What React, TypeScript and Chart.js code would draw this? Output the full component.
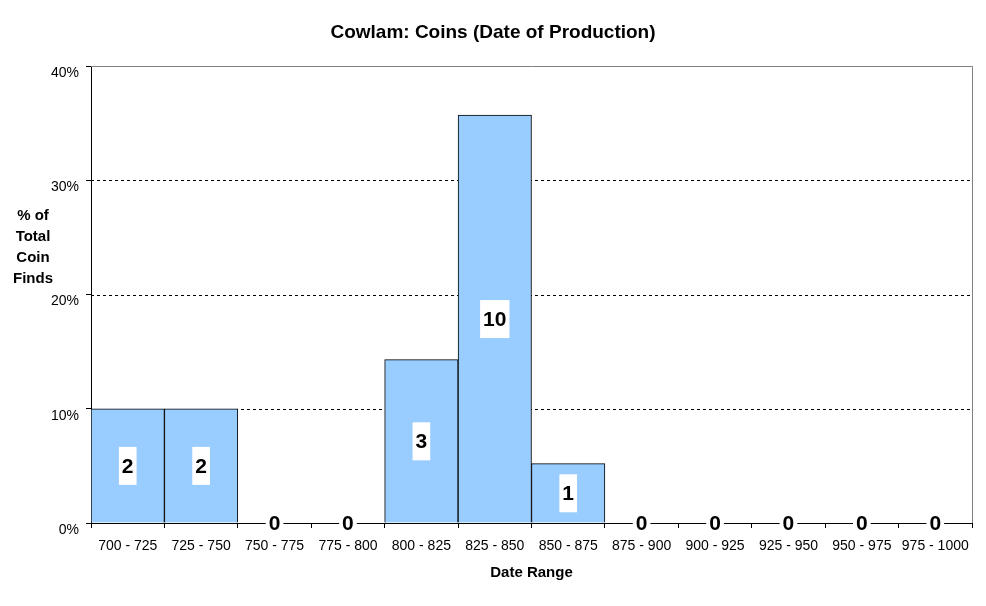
import React, { useEffect, useRef } from "react";
import { Chart, registerables } from "chart.js";

Chart.register(...registerables);

const categories = [
  "700 - 725", "725 - 750", "750 - 775", "775 - 800", "800 - 825", "825 - 850",
  "850 - 875", "875 - 900", "900 - 925", "925 - 950", "950 - 975", "975 - 1000",
];
const percentValues = [10, 10, 0, 0, 14.3, 35.7, 5.2, 0, 0, 0, 0, 0];
const coinCounts = [2, 2, 0, 0, 3, 10, 1, 0, 0, 0, 0, 0];
const yTickValues = [0, 10, 20, 30, 40];
const titleText = "Cowlam: Coins (Date of Production)";
const yTitleLines = ["% of", "Total", "Coin", "Finds"];
const xTitleText = "Date Range";

const FONT = "'Liberation Sans', Arial, sans-serif";

const decorPlugin = {
  id: "decor",
  beforeDatasetsDraw(chart: any) {
    const { ctx, chartArea, scales } = chart;
    const y = scales.y;
    ctx.save();
    ctx.strokeStyle = "#000";
    ctx.lineWidth = 1;
    ctx.setLineDash([3, 3]);
    [10, 20, 30].forEach((v) => {
      const py = Math.round(y.getPixelForValue(v)) + 0.5;
      ctx.beginPath();
      ctx.moveTo(chartArea.left, py);
      ctx.lineTo(chartArea.right, py);
      ctx.stroke();
    });
    ctx.setLineDash([]);
    ctx.strokeStyle = "#808080";
    ctx.beginPath();
    const top = Math.round(chartArea.top) + 0.5;
    const right = Math.round(chartArea.right) + 0.5;
    ctx.moveTo(chartArea.left, top);
    ctx.lineTo(right, top);
    ctx.lineTo(right, chartArea.bottom);
    ctx.stroke();
    ctx.restore();
  },
  afterDraw(chart: any) {
    const { ctx, chartArea, scales } = chart;
    const x = scales.x;
    const y = scales.y;
    ctx.save();
    // title
    ctx.fillStyle = "#000";
    ctx.textAlign = "center";
    ctx.textBaseline = "middle";
    ctx.font = `bold 19px ${FONT}`;
    ctx.fillText(titleText, 493, 33);
    // y title
    ctx.font = `bold 15px ${FONT}`;
    yTitleLines.forEach((line, i) => {
      ctx.fillText(line, 33, 216 + i * 21);
    });
    // x title
    ctx.font = `bold 15px ${FONT}`;
    ctx.fillText(xTitleText, (chartArea.left + chartArea.right) / 2, 573);
    // value labels
    ctx.font = `bold 21px ${FONT}`;
    const base = y.getPixelForValue(0);
    coinCounts.forEach((count, i) => {
      const cx = x.getPixelForValue(i);
      const v = percentValues[i];
      const label = String(count);
      const w = ctx.measureText(label).width + 6;
      let cy: number;
      let h: number;
      if (v > 0) {
        cy = (y.getPixelForValue(v) + base) / 2;
        h = 38;
      } else {
        cy = base;
        h = 20;
      }
      ctx.fillStyle = "#fff";
      ctx.fillRect(cx - w / 2, cy - h / 2, w, h);
      ctx.fillStyle = "#000";
      ctx.fillText(label, cx, cy + 1);
    });
    ctx.restore();
  },
};

export default function App() {
  const ref = useRef<HTMLCanvasElement | null>(null);
  useEffect(() => {
    document.body.style.margin = "0";
    const canvas = ref.current!;
    const chart = new Chart(canvas, {
      type: "bar",
      data: {
        labels: categories,
        datasets: [
          {
            data: percentValues,
            backgroundColor: "#99ccff",
            borderColor: "#000",
            borderWidth: 1,
            categoryPercentage: 1,
            barPercentage: 1,
          },
        ],
      },
      options: {
        animation: false,
        responsive: false,
        maintainAspectRatio: false,
        layout: { padding: { top: 66, right: 14, left: 0, bottom: 0 } },
        plugins: {
          legend: { display: false },
          title: { display: false },
          tooltip: { enabled: false },
        },
        scales: {
          x: {
            offset: true,
            grid: {
              offset: true,
              drawOnChartArea: false,
              drawTicks: true,
              tickLength: 5,
              tickColor: "#000",
            },
            border: { display: true, color: "#000", width: 1 },
            ticks: {
              color: "#000",
              font: { family: FONT, size: 14 },
              padding: 10,
              maxRotation: 0,
              autoSkip: false,
            },
            afterFit(scale: any) {
              scale.height = 83;
            },
          },
          y: {
            min: 0,
            max: 40,
            afterBuildTicks(scale: any) {
              scale.ticks = yTickValues.map((v) => ({ value: v }));
            },
            grid: {
              drawOnChartArea: false,
              drawTicks: true,
              tickLength: 5,
              tickColor: "#000",
            },
            border: { display: true, color: "#000", width: 1 },
            ticks: {
              color: "#000",
              font: { family: FONT, size: 14 },
              padding: 7,
              labelOffset: 7,
              callback: (v: any) => `${v}%`,
            },
            afterFit(scale: any) {
              scale.width = 91;
            },
          },
        },
      },
      plugins: [decorPlugin],
    });
    return () => chart.destroy();
  }, []);
  return (
    <div style={{ width: 986, height: 606, background: "#fff" }}>
      <canvas ref={ref} width={986} height={606} />
    </div>
  );
}
